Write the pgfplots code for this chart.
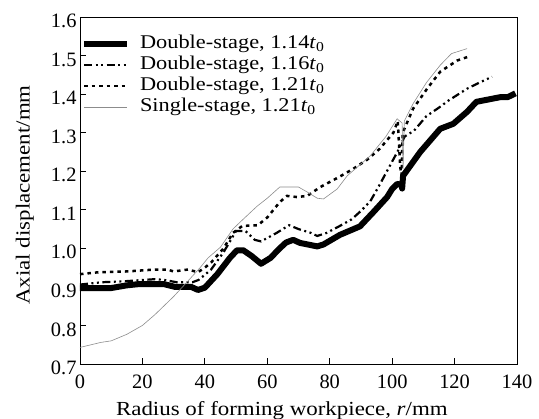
\documentclass[border=0pt]{standalone}
\usepackage{fontspec}
\setmainfont{Liberation Serif}
\newfontfamily\labelfont[FakeStretch=1.15]{Liberation Serif}
\usepackage{pgfplots}
\pgfplotsset{compat=1.18}
\definecolor{thingray}{RGB}{140,140,140}
\begin{document}
\begin{tikzpicture}
\begin{axis}[
  scale only axis, width=437bp, height=347bp,
  xmin=0, xmax=140, ymin=0.7, ymax=1.6,
  xtick={0,20,40,60,80,100,120,140},
  ytick={0.7,0.8,0.9,1.0,1.1,1.2,1.3,1.4,1.5,1.6},
  tick align=inside, xtick pos=bottom, ytick pos=left,
  major tick length=6bp,
  tick style={black, line width=0.8bp},
  axis line style={line width=0.8bp},
  /pgf/number format/assume math mode=true,
  ticklabel style={font=\fontsize{20.5}{22}\selectfont},
  xticklabel style={yshift=-7bp},
  yticklabel style={yshift=-4bp, /pgf/number format/.cd, fixed, fixed zerofill, precision=1},
  xlabel={Radius of forming workpiece, \textit{r}/mm},
  ylabel={Axial displacement/mm},
  xlabel style={font=\labelfont\fontsize{20}{22}\selectfont, at={(axis description cs:0.462,-0.147)}, anchor=base},
  ylabel style={font=\labelfont\fontsize{20}{22}\selectfont, at={(axis description cs:-0.126,0.487)}, anchor=center},
  legend style={draw=none, fill=none, at={(axis description cs:0.002,0.948)}, anchor=north west,
    font=\labelfont\fontsize{19.5}{20}\selectfont, row sep=3bp, column sep=10bp, inner sep=0pt,
    nodes={inner sep=0pt, text height=13bp, text depth=5bp}},
  legend cell align=left,
  legend image code/.code={\draw[#1] (0bp,0bp) -- (43bp,0bp);},
]
\addplot[black, line width=6bp, line join=round] coordinates {
(0,0.897) (10,0.897) (15,0.904) (18.6,0.907) (27,0.907) (30.4,0.900) (35.6,0.900) (37.8,0.892)
(40,0.898) (44,0.933) (48,0.975) (50.3,0.995) (52.3,0.995) (55,0.980) (58,0.960) (61,0.975)
(64,1.000) (66,1.015) (68.3,1.022) (70.5,1.014) (76,1.005) (78,1.010) (83.3,1.035) (89.7,1.057)
(94,1.094) (98.4,1.133) (100,1.154) (101.6,1.167) (103.0,1.165) (103.2,1.155) (103.5,1.188)
(109,1.25) (115.4,1.31) (119.6,1.323) (124,1.354) (127,1.380) (134.6,1.392) (137,1.392) (139.5,1.402)
};
\addlegendentry{Double-stage, 1.14\textit{t}\textsubscript{0}}
\addplot[black, line width=2.2bp, dash pattern=on 8bp off 3.5bp on 2bp off 3.5bp on 2bp off 3.5bp] coordinates {
(0,0.906) (7,0.912) (15,0.915) (24,0.920) (27,0.918) (31,0.912) (36,0.912) (38,0.918) (42,0.945)
(46,0.99) (50,1.045) (53,1.045) (56,1.022) (58,1.018) (63,1.040) (67,1.060) (70,1.050) (74,1.040)
(76,1.032) (79,1.040) (83,1.057) (87,1.075) (90,1.097) (93,1.122) (96,1.165) (99,1.210) (102,1.255)
(104,1.290) (107,1.305) (111,1.343) (115,1.365) (118,1.383) (124,1.414) (128,1.430) (132,1.445)
};
\addlegendentry{Double-stage, 1.16\textit{t}\textsubscript{0}}
\addplot[black, line width=2.5bp, dash pattern=on 3.5bp off 4bp] coordinates {
(0,0.933) (6,0.938) (15,0.940) (24,0.945) (28,0.945) (30,0.940) (34.6,0.945) (37.8,0.938) (40,0.950)
(42,0.963) (46,1.00) (49,1.04) (52,1.058) (57,1.060) (60,1.080) (64,1.120) (66.3,1.136) (69.5,1.133)
(72.8,1.136) (77,1.159) (83,1.185) (87.5,1.206) (92,1.230) (96,1.258) (100.4,1.300) (101.8,1.330)
(102.6,1.21) (103.0,1.19) (103.4,1.30) (106.7,1.362) (111.2,1.414) (115.4,1.458) (120.8,1.487) (124.4,1.497)
};
\addlegendentry{Double-stage, 1.21\textit{t}\textsubscript{0}}
\addplot[thingray, line width=0.6bp] coordinates {
(0,0.743) (6.7,0.756) (10,0.760) (15,0.777) (20,0.80) (24,0.828) (30,0.875) (34,0.91) (38.5,0.950)
(41,0.975) (45,1.003) (49,1.050) (51.3,1.068) (56.7,1.109) (60,1.13) (64,1.159) (70,1.159) (72.8,1.146)
(76,1.130) (78,1.128) (82.4,1.154) (85.6,1.188) (93,1.240) (98,1.29) (101.6,1.336) (103.2,1.325)
(103.5,1.205) (103.9,1.33) (106.7,1.375) (111,1.43) (115.4,1.475) (119,1.505) (124,1.518)
};
\addlegendentry{Single-stage, 1.21\textit{t}\textsubscript{0}}
\end{axis}
\pgfresetboundingbox
\path ([xshift=-80bp,yshift=-55bp]current axis.south west) rectangle ([xshift=22bp,yshift=17bp]current axis.north east);
\end{tikzpicture}
\end{document}
